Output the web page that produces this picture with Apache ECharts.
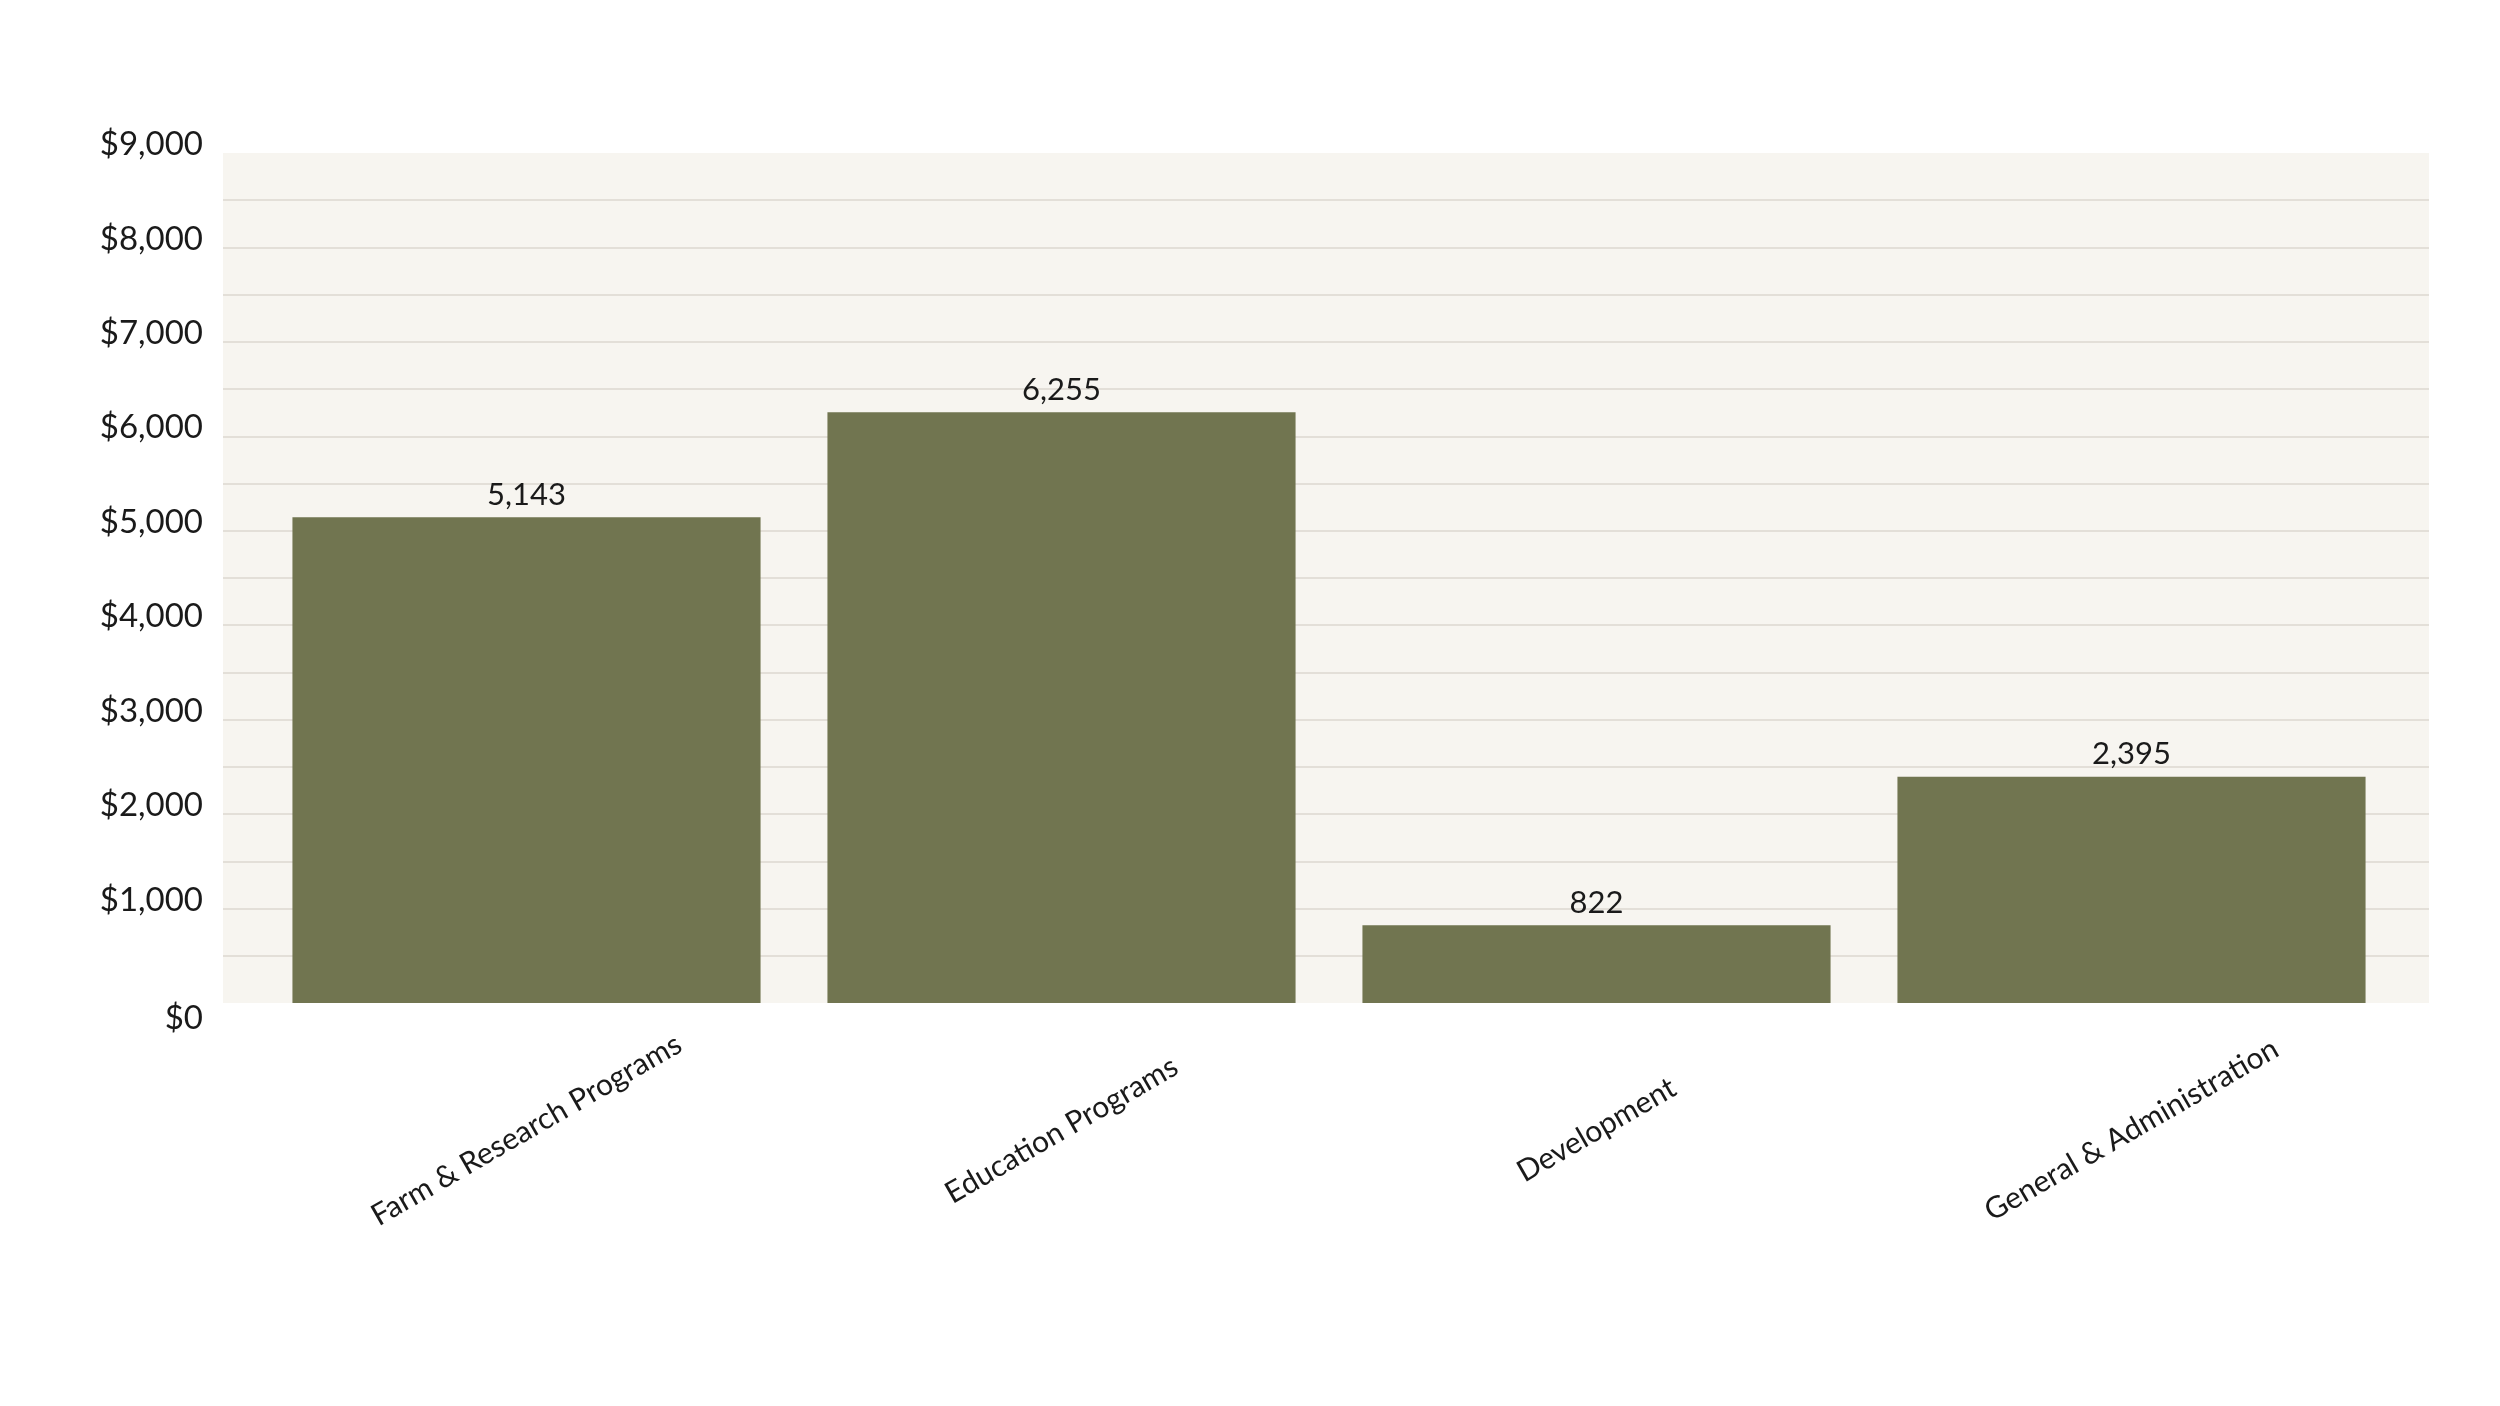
<!DOCTYPE html>
<html>
<head>
<meta charset="utf-8">
<script src="https://cdn.jsdelivr.net/npm/echarts@6/dist/echarts.min.js"></script>
<style>
html,body{margin:0;padding:0;background:#ffffff;}
#chart{width:2500px;height:1406px;}
</style>
</head>
<body>
<div id="chart"></div>
<script>
const categories = ["Farm & Research Programs", "Education Programs", "Development", "General & Administration"];
const expenses = [5143, 6255, 822, 2395];
const yTicks = [0, 1000, 2000, 3000, 4000, 5000, 6000, 7000, 8000, 9000];

const FONT = 'Lato';
const TEXT = '#1a1a1a';
const fmt = v => Number(v).toLocaleString('en-US');

const chart = echarts.init(document.getElementById('chart'), null, {renderer: 'canvas'});
chart.setOption({
  backgroundColor: '#ffffff',
  animation: false,
  textStyle: {fontFamily: FONT},
  grid: [
    {left: 223, right: 71, top: 153, bottom: 403, show: true, backgroundColor: '#f7f5f0', borderWidth: 0},
    {left: 259, right: 101, top: 153, bottom: 403}
  ],
  xAxis: [
    {gridIndex: 0, type: 'value', show: false, min: 0, max: 1},
    {
      gridIndex: 1, type: 'category', data: categories,
      axisLine: {show: false}, axisTick: {show: false},
      axisLabel: {
        rotate: 30, align: 'center', verticalAlign: 'middle', margin: 127,
        fontFamily: FONT, fontSize: 30, color: TEXT, interval: 0
      }
    }
  ],
  yAxis: [
    {
      gridIndex: 0, type: 'value', min: yTicks[0], max: yTicks[yTicks.length - 1], interval: 1000,
      axisLine: {show: false}, axisTick: {show: false},
      axisLabel: {
        margin: 20, fontFamily: FONT, fontSize: 33, color: TEXT,
        formatter: v => (v === 0 ? '{z|$0}' : '{a|$' + fmt(v) + '}'),
        rich: {
          a: {fontFamily: FONT, fontSize: 33, color: TEXT, padding: [0, 0, 17, 0]},
          z: {fontFamily: FONT, fontSize: 33, color: TEXT, padding: [30, 0, 0, 0]}
        }
      },
      splitLine: {show: true, showMinLine: false, showMaxLine: false, lineStyle: {color: '#e3dfd8', width: 2}},
      minorTick: {show: false, splitNumber: 2},
      minorSplitLine: {show: true, lineStyle: {color: '#e3dfd8', width: 2}}
    },
    {gridIndex: 1, type: 'value', min: yTicks[0], max: yTicks[yTicks.length - 1], show: false, splitLine: {show: false}}
  ],
  series: [{
    type: 'bar',
    xAxisIndex: 1, yAxisIndex: 1,
    data: expenses,
    barCategoryGap: '12.5%',
    itemStyle: {color: '#717550'},
    label: {
      show: true, position: 'top', distance: 7,
      fontFamily: FONT, fontSize: 31, color: TEXT,
      formatter: p => fmt(p.value)
    }
  }]
});
</script>
</body>
</html>
